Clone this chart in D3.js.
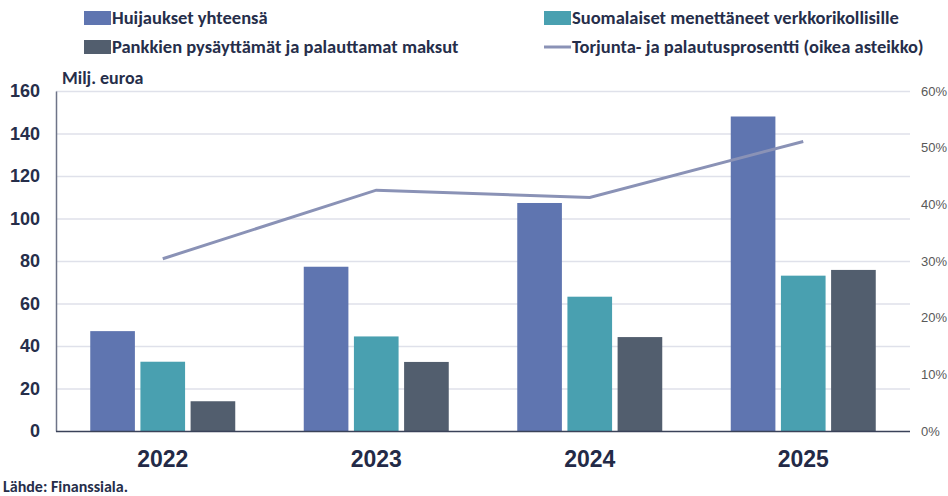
<!DOCTYPE html>
<html>
<head>
<meta charset="utf-8">
<script src="https://cdn.jsdelivr.net/npm/d3@7"></script>
<style>
  body { margin: 0; background: #fff; }
  svg { display: block; font-family: Carlito, "Liberation Sans Narrow", Lato, sans-serif; }
</style>
</head>
<body>
<svg></svg>
<script>
const years = ["2022", "2023", "2024", "2025"];
const seriesNames = [
  "Huijaukset yhteensä",
  "Suomalaiset menettäneet verkkorikollisille",
  "Pankkien pysäyttämät ja palauttamat maksut"
];
const huijaukset = [47, 77.3, 107.3, 148];
const menetetyt = [32.6, 44.5, 63.2, 73.1];
const pysaytetyt = [14, 32.5, 44.2, 75.8];
const lineName = "Torjunta- ja palautusprosentti (oikea asteikko)";
const prosentti = [30.4, 42.5, 41.2, 51.1];
const leftTicks = [0, 20, 40, 60, 80, 100, 120, 140, 160];
const rightTicks = [0, 10, 20, 30, 40, 50, 60];
const colors = ["#5f75b0", "#49a0b0", "#525e6e"];
const lineColor = "#8a92b6";

const width = 948, height = 496;
const marginLeft = 56, marginRight = 38, marginTop = 91, marginBottom = 65;

const svg = d3.select("svg")
  .attr("width", width)
  .attr("height", height)
  .attr("viewBox", [0, 0, width, height]);

const x = d3.scaleBand()
  .domain(years)
  .range([marginLeft, width - marginRight])
  .paddingInner(0)
  .paddingOuter(0);

const groupWidth = 145;
const xs = d3.scaleBand()
  .domain(d3.range(3))
  .range([0, groupWidth])
  .paddingInner(0.11);

const y = d3.scaleLinear().domain([0, 160]).range([height - marginBottom, marginTop]);
const y2 = d3.scaleLinear().domain([0, 60]).range([height - marginBottom, marginTop]);

// gridlines
svg.append("g")
  .selectAll("line")
  .data(leftTicks.slice(1))
  .join("line")
  .attr("x1", marginLeft)
  .attr("x2", width - marginRight)
  .attr("y1", d => y(d) + 0.5)
  .attr("y2", d => y(d) + 0.5)
  .attr("stroke", "#dfe1ea")
  .attr("stroke-width", 1.5);

// left axis
svg.append("g")
  .attr("transform", `translate(${marginLeft},0)`)
  .call(d3.axisLeft(y).tickValues(leftTicks).tickSize(0).tickPadding(16))
  .call(g => g.select(".domain").attr("stroke", "#6e7488").attr("stroke-width", 1.5))
  .call(g => g.selectAll("text")
    .attr("fill", "#262e4a")
    .attr("font-size", 18)
    .attr("font-weight", "bold")
    .attr("font-family", null));

// right axis labels
svg.append("g")
  .attr("transform", `translate(${width - marginRight},0)`)
  .call(d3.axisRight(y2).tickValues(rightTicks).tickSize(0).tickPadding(11).tickFormat(d => d + "%"))
  .call(g => g.select(".domain").remove())
  .call(g => g.selectAll("text")
    .attr("fill", "#595959")
    .attr("font-size", 13)
    .attr("font-family", null));

// bars
const data = years.map((yr, i) => ({ year: yr, values: [huijaukset[i], menetetyt[i], pysaytetyt[i]] }));
svg.append("g")
  .selectAll("g")
  .data(data)
  .join("g")
  .attr("transform", d => `translate(${x(d.year) + (x.bandwidth() - groupWidth) / 2},0)`)
  .selectAll("rect")
  .data(d => d.values)
  .join("rect")
  .attr("x", (d, i) => xs(i))
  .attr("width", xs.bandwidth())
  .attr("y", d => y(d))
  .attr("height", d => y(0) - y(d))
  .attr("fill", (d, i) => colors[i]);

// bottom axis line
svg.append("line")
  .attr("x1", marginLeft)
  .attr("x2", width - marginRight)
  .attr("y1", y(0) + 0.5)
  .attr("y2", y(0) + 0.5)
  .attr("stroke", "#3a4259")
  .attr("stroke-width", 1.5);

// x labels
svg.append("g")
  .attr("transform", `translate(0,${y(0)})`)
  .call(d3.axisBottom(x).tickSize(0).tickPadding(20))
  .call(g => g.select(".domain").remove())
  .call(g => g.selectAll("text")
    .attr("fill", "#232a47")
    .attr("font-size", 23)
    .attr("font-weight", "bold")
    .attr("font-family", null));

// line
const line = d3.line()
  .x((d, i) => x(years[i]) + x.bandwidth() / 2)
  .y(d => y2(d));
svg.append("path")
  .datum(prosentti)
  .attr("d", line)
  .attr("fill", "none")
  .attr("stroke", lineColor)
  .attr("stroke-width", 3);

// axis title
svg.append("text")
  .attr("x", 62)
  .attr("y", 84)
  .attr("fill", "#262e4a")
  .attr("font-size", 18)
  .attr("font-weight", "bold")
  .text("Milj. euroa");

// legend
const legendItems = [
  { name: seriesNames[0], type: "rect", color: colors[0], x: 84, y: 18 },
  { name: seriesNames[1], type: "rect", color: colors[1], x: 544, y: 18 },
  { name: seriesNames[2], type: "rect", color: colors[2], x: 84, y: 47 },
  { name: lineName, type: "line", color: lineColor, x: 544, y: 47 }
];
const legend = svg.append("g")
  .selectAll("g")
  .data(legendItems)
  .join("g")
  .attr("transform", d => `translate(${d.x},${d.y})`);
legend.filter(d => d.type === "rect").append("rect")
  .attr("x", 0).attr("y", -7).attr("width", 27).attr("height", 14)
  .attr("fill", d => d.color);
legend.filter(d => d.type === "line").append("line")
  .attr("x1", 0).attr("x2", 27).attr("y1", 0).attr("y2", 0)
  .attr("stroke", d => d.color).attr("stroke-width", 3);
legend.append("text")
  .attr("x", 28)
  .attr("dy", "0.35em")
  .attr("fill", "#262e4a")
  .attr("font-size", 18.5)
  .attr("font-weight", "bold")
  .text(d => d.name);

// source
svg.append("text")
  .attr("x", 3)
  .attr("y", 492)
  .attr("fill", "#262e4a")
  .attr("font-size", 16)
  .attr("font-weight", "bold")
  .text("Lähde: Finanssiala.");
</script>
</body>
</html>
